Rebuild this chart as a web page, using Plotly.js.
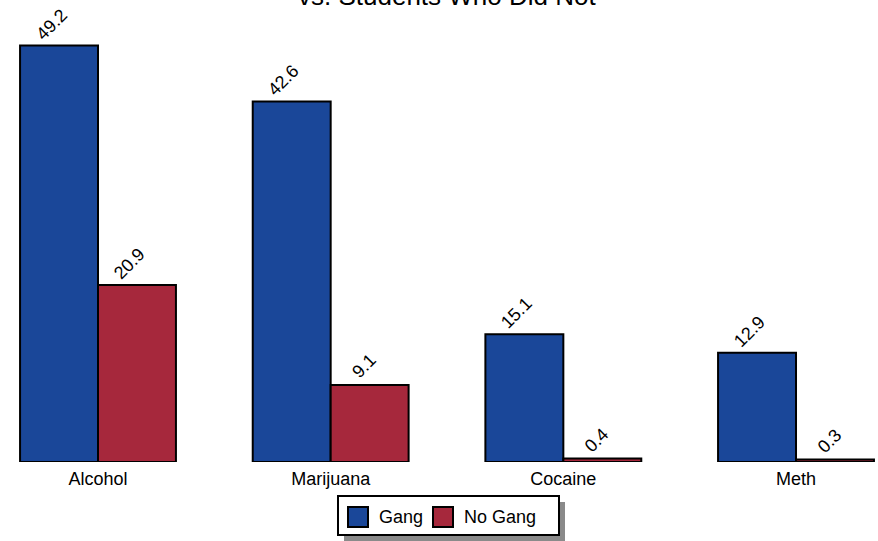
<!DOCTYPE html>
<html>
<head>
<meta charset="utf-8">
<script src="https://cdn.plot.ly/plotly-3.0.1.min.js"></script>
<style>html,body{margin:0;padding:0;background:#fff;}#chart{width:878px;height:541px;}</style>
</head>
<body>
<div id="chart"></div>
<script>
// ---- data ----
const categories = ["Alcohol", "Marijuana", "Cocaine", "Meth"];
const gang = [49.2, 42.6, 15.1, 12.9];
const noGang = [20.9, 9.1, 0.4, 0.3];
const seriesNames = ["Gang", "No Gang"];
const titleText = "vs. Students Who Did Not";

// ---- style ----
const W = 878, H = 541;
const plotBottom = 462;
const FONT = "Liberation Sans, Arial, Helvetica, sans-serif";
const BLUE = "#1a4799";
const RED = "#a6283c";
const colors = [BLUE, RED];

const px = x => x / W;
const py = y => (plotBottom - y) / plotBottom;

const traces = [gang, noGang].map((vals, i) => ({
  type: "bar",
  name: seriesNames[i],
  x: categories,
  y: vals,
  marker: {color: colors[i], line: {color: "#000", width: 2}},
  hoverinfo: "x+y+name"
}));

const annotations = [];
// value labels
[gang, noGang].forEach((vals, s) => {
  vals.forEach((v, i) => {
    const t = v.toFixed(1);
    const n = t.length;
    annotations.push({
      x: i, y: v, xref: "x", yref: "y",
      text: t, showarrow: false, textangle: -45,
      xanchor: "center", yanchor: "middle",
      xshift: (s === 0 ? -39 : 39) + (-2.5 * n + 2),
      yshift: 2.5 * n + 11,
      font: {family: FONT, size: 18, color: "#000"}
    });
  });
});
// title (second line visible at top)
annotations.push({
  x: 1.5, xref: "x", y: 1, yref: "paper",
  text: titleText, showarrow: false,
  xanchor: "center", yanchor: "bottom", yshift: -13,
  font: {family: FONT, size: 26, color: "#000"}
});
// legend labels
const legendText = [[377, seriesNames[0]], [462, seriesNames[1]]];
legendText.forEach(([x, t]) => annotations.push({
  x: px(x), y: py(517), xref: "paper", yref: "paper",
  text: t, showarrow: false, xanchor: "left", yanchor: "middle",
  font: {family: FONT, size: 18, color: "#000"}
}));

const shapes = [
  {type: "rect", xref: "paper", yref: "paper", x0: px(344), x1: px(565), y0: py(502), y1: py(541),
   fillcolor: "#8a8a8a", line: {width: 0}},
  {type: "rect", xref: "paper", yref: "paper", x0: px(338), x1: px(559), y0: py(496), y1: py(535),
   fillcolor: "#fff", line: {color: "#000", width: 2}},
  {type: "rect", xref: "paper", yref: "paper", x0: px(348), x1: px(368), y0: py(507), y1: py(527),
   fillcolor: BLUE, line: {color: "#000", width: 2}},
  {type: "rect", xref: "paper", yref: "paper", x0: px(433), x1: px(453), y0: py(507), y1: py(527),
   fillcolor: RED, line: {color: "#000", width: 2}}
];

const layout = {
  width: W, height: H,
  margin: {l: 0, r: 0, t: 0, b: H - plotBottom, pad: 0},
  paper_bgcolor: "#fff", plot_bgcolor: "#fff",
  barmode: "group", bargap: 0.33, bargroupgap: 0,
  showlegend: false,
  font: {family: FONT, color: "#000"},
  xaxis: {
    type: "category", range: [-0.4212, 3.3524],
    showgrid: false, zeroline: false, showline: false, ticks: "",
    tickfont: {family: FONT, size: 18, color: "#000"},
    ticklabelstandoff: 4
  },
  yaxis: {
    range: [0, 54.58], visible: false, showgrid: false, zeroline: false
  },
  annotations: annotations,
  shapes: shapes
};

Plotly.newPlot("chart", traces, layout, {displayModeBar: false, staticPlot: true});
</script>
</body>
</html>
